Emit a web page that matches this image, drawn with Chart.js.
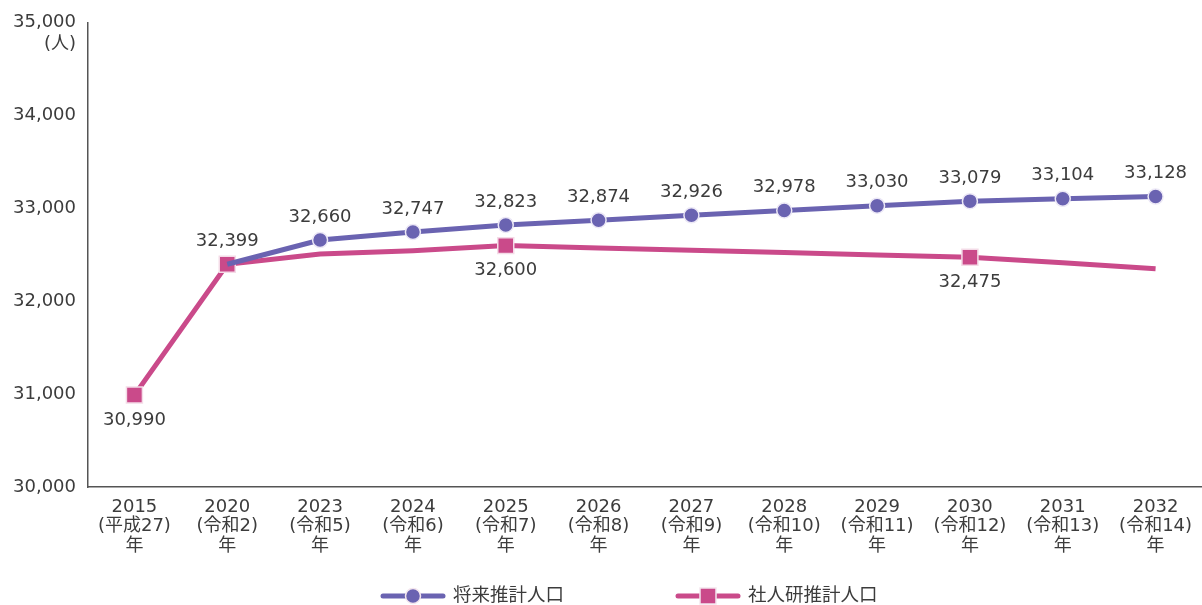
<!DOCTYPE html>
<html>
<head>
<meta charset="utf-8">
<script src="https://cdn.jsdelivr.net/npm/chart.js@4/dist/chart.umd.min.js"></script>
<style>
  html, body { margin: 0; padding: 0; background: #fff; overflow: hidden; }
  #wrap { position: relative; width: 1202px; height: 605px; }
</style>
</head>
<body>
<div id="wrap"><canvas id="c"></canvas></div>
<script>
var FONT = '"DejaVu Sans", "Noto Sans CJK JP", sans-serif';
var TEXT = '#3c3c3c';
var BLUE = '#6A63B1';
var PINK = '#CA4A8A';

// x categories (3-line labels)
var years = ['2015', '2020', '2023', '2024', '2025', '2026', '2027', '2028', '2029', '2030', '2031', '2032'];
var eras = ['(平成27)', '(令和2)', '(令和5)', '(令和6)', '(令和7)', '(令和8)', '(令和9)', '(令和10)', '(令和11)', '(令和12)', '(令和13)', '(令和14)'];

// 将来推計人口
var futureVals = [null, 32399, 32660, 32747, 32823, 32874, 32926, 32978, 33030, 33079, 33104, 33128];
var futureLabeled = [false, false, true, true, true, true, true, true, true, true, true, true];

// 社人研推計人口 (values between marked years)
var ipssVals = [30990, 32399, 32510, 32545, 32600, 32575, 32550, 32525, 32500, 32475, 32415, 32350];
var ipssMarked = [true, true, false, false, true, false, false, false, false, true, false, false];
var ipssLabelAbove = [false, true, false, false, false, false, false, false, false, false, false, false];

var yTicks = [30000, 31000, 32000, 33000, 34000, 35000];

var seriesNames = ['将来推計人口', '社人研推計人口'];

var labels = years.map(function(y, i) { return [y, eras[i], '年']; });

function fmt(v) { return v.toLocaleString('en-US'); }

var extras = {
  id: 'extras',
  afterDatasetsDraw: function(chart) {
    var ctx = chart.ctx;
    ctx.save();
    ctx.font = '18px ' + FONT;
    ctx.fillStyle = TEXT;
    ctx.textAlign = 'center';
    ctx.textBaseline = 'middle';

    var m0 = chart.getDatasetMeta(0);
    futureVals.forEach(function(v, i) {
      if (v == null || !futureLabeled[i]) return;
      var p = m0.data[i];
      ctx.fillText(fmt(v), p.x, p.y - 23);
    });

    var m1 = chart.getDatasetMeta(1);
    ipssVals.forEach(function(v, i) {
      if (!ipssMarked[i]) return;
      var p = m1.data[i];
      ctx.fillText(fmt(v), p.x, ipssLabelAbove[i] ? p.y - 23 : p.y + 25);
    });

    // unit
    ctx.textAlign = 'right';
    ctx.fillText('(人)', 76, 44);

    // legend
    var items = [
      { x: 383, color: BLUE, style: 'circle', name: seriesNames[0] },
      { x: 678, color: PINK, style: 'rect', name: seriesNames[1] }
    ];
    var ly = 596;
    ctx.font = '18.5px ' + FONT;
    items.forEach(function(it) {
      ctx.strokeStyle = it.color;
      ctx.lineWidth = 5;
      ctx.lineCap = 'round';
      ctx.beginPath();
      ctx.moveTo(it.x, ly);
      ctx.lineTo(it.x + 60, ly);
      ctx.stroke();
      ctx.fillStyle = it.color;
      ctx.strokeStyle = '#f4e6ee';
      ctx.lineWidth = 1.5;
      ctx.beginPath();
      if (it.style === 'circle') ctx.arc(it.x + 30, ly, 7.5, 0, Math.PI * 2);
      else ctx.rect(it.x + 22, ly - 8, 16, 16);
      ctx.fill();
      ctx.stroke();
      ctx.fillStyle = TEXT;
      ctx.textAlign = 'left';
      ctx.fillText(it.name, it.x + 70, ly);
    });
    ctx.restore();
  }
};

new Chart(document.getElementById('c'), {
  type: 'line',
  data: {
    labels: labels,
    datasets: [{
      label: seriesNames[0],
      data: futureVals,
      borderColor: BLUE,
      backgroundColor: BLUE,
      borderWidth: 5,
      pointStyle: 'circle',
      pointRadius: futureVals.map(function(v, i) { return i === 1 ? 0 : 7.5; }),
      pointBorderColor: '#ece8f6',
      pointBorderWidth: 1.5,
      tension: 0
    }, {
      label: seriesNames[1],
      data: ipssVals,
      borderColor: PINK,
      backgroundColor: PINK,
      borderWidth: 5,
      pointStyle: 'rect',
      pointRadius: ipssMarked.map(function(m) { return m ? 11.3 : 0; }),
      pointBorderColor: '#f4dbe7',
      pointBorderWidth: 1.5,
      tension: 0
    }]
  },
  options: {
    responsive: true,
    maintainAspectRatio: false,
    animation: false,
    layout: { autoPadding: false, padding: { top: 20, right: 0, bottom: 0, left: 0 } },
    plugins: { legend: { display: false }, tooltip: { enabled: false } },
    scales: {
      x: {
        offset: true,
        grid: { display: false, drawTicks: false },
        border: { color: '#555555', width: 1.5 },
        ticks: { color: TEXT, font: { family: FONT, size: 18, lineHeight: 1.1 }, padding: 10, maxRotation: 0, autoSkip: false },
        afterFit: function(s) { s.height = 118; s.paddingRight = 0; s.paddingLeft = 0; }
      },
      y: {
        min: 30000, max: 35000,
        afterBuildTicks: function(s) { s.ticks = yTicks.map(function(v) { return { value: v }; }); },
        grid: { display: false, drawTicks: false },
        border: { color: '#555555', width: 1.5 },
        ticks: { color: TEXT, font: { family: FONT, size: 18 }, padding: 12, callback: function(v) { return fmt(v); } },
        afterFit: function(s) { s.width = 88; }
      }
    }
  },
  plugins: [extras]
});
</script>
</body>
</html>
